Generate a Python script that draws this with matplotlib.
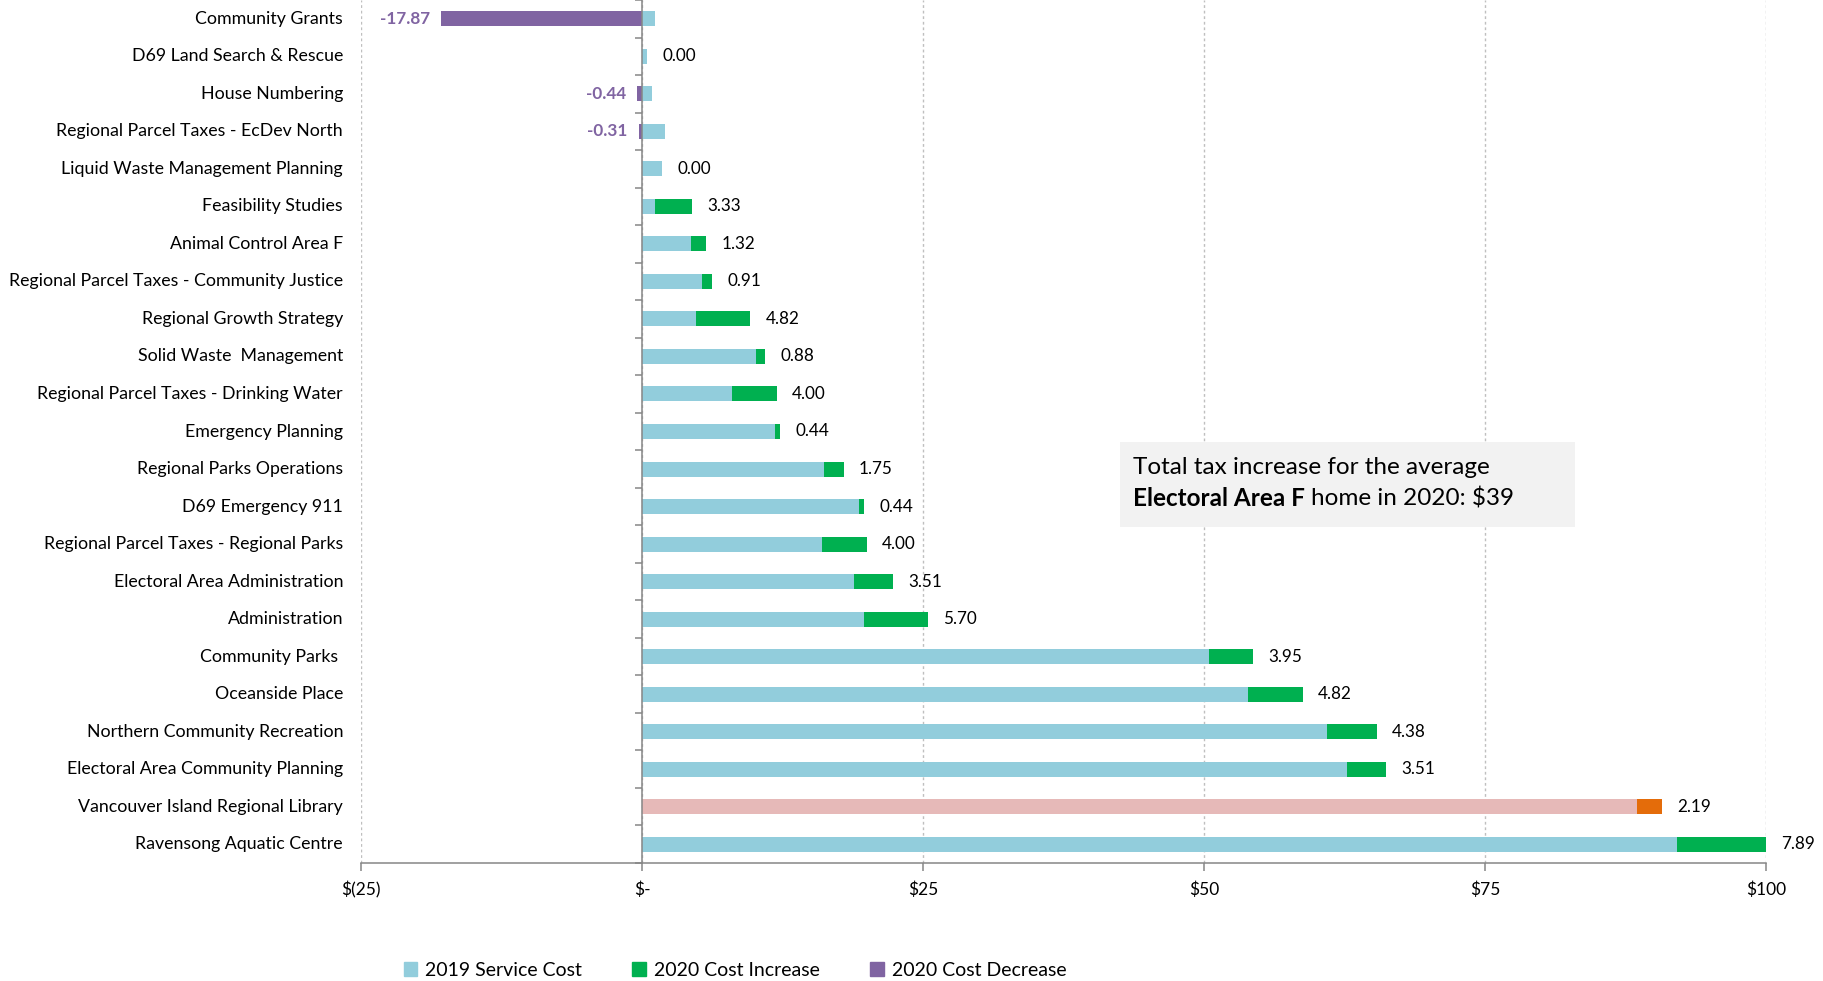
import matplotlib.pyplot as plt
from matplotlib.patches import Patch, Rectangle
from matplotlib.text import Annotation
import numpy as np

plt.rcParams['font.family'] = ['Lato', 'DejaVu Sans']

CATEGORIES = [
    "Community Grants",
    "D69 Land Search & Rescue",
    "House Numbering",
    "Regional Parcel Taxes - EcDev North",
    "Liquid Waste Management Planning",
    "Feasibility Studies",
    "Animal Control Area F",
    "Regional Parcel Taxes - Community Justice",
    "Regional Growth Strategy",
    "Solid Waste  Management",
    "Regional Parcel Taxes - Drinking Water",
    "Emergency Planning",
    "Regional Parks Operations",
    "D69 Emergency 911",
    "Regional Parcel Taxes - Regional Parks",
    "Electoral Area Administration",
    "Administration",
    "Community Parks ",
    "Oceanside Place",
    "Northern Community Recreation",
    "Electoral Area Community Planning",
    "Vancouver Island Regional Library",
    "Ravensong Aquatic Centre",
]

COST_2019 = [1.13, 0.45, 0.89, 2.08, 1.78, 1.15, 4.40, 5.30, 4.83, 10.10,
             8.00, 11.85, 16.20, 19.30, 16.00, 18.85, 19.75, 50.45, 53.95,
             60.97, 62.70, 88.55, 92.11]

CHANGE_2020 = [-17.87, 0.00, -0.44, -0.31, 0.00, 3.33, 1.32, 0.91, 4.82, 0.88,
               4.00, 0.44, 1.75, 0.44, 4.00, 3.51, 5.70, 3.95, 4.82, 4.38,
               3.51, 2.19, 7.89]

HIGHLIGHT = "Vancouver Island Regional Library"

X_TICKS = [-25, 0, 25, 50, 75, 100]
X_LABELS = ["$(25)", "$-", "$25", "$50", "$75", "$100"]

BLUE = "#92CDDC"
GREEN = "#00B050"
PURPLE = "#8064A2"
PINK = "#E6B9B8"
ORANGE = "#E46C0A"
GREY = "#868686"

W, H = 1823, 981


def main():
    fig = plt.figure(figsize=(W / 100, H / 100), dpi=100)
    ax = fig.add_axes([361 / W, 1 - 863 / H, 1405 / W, 863 / H])

    n = len(CATEGORIES)
    y = np.arange(n)
    base = np.array(COST_2019)
    change = np.array(CHANGE_2020)
    inc = np.clip(change, 0, None)
    dec = np.clip(change, None, 0)

    base_colors = [PINK if c == HIGHLIGHT else BLUE for c in CATEGORIES]
    inc_colors = [ORANGE if c == HIGHLIGHT else GREEN for c in CATEGORIES]

    h = 0.4
    ax.barh(y, base, height=h, color=base_colors, zorder=3)
    ax.barh(y, inc, left=base, height=h, color=inc_colors, zorder=3)
    ax.barh(y, dec, height=h, color=PURPLE, zorder=3)

    # value labels
    for yi, b, c in zip(y, base, change):
        if c < 0:
            ax.annotate(f"{c:.2f}", xy=(c, yi), xytext=(-8, 0),
                        textcoords="offset points", ha="right", va="center",
                        fontsize=12.3, color=PURPLE, fontweight="bold")
        else:
            ax.annotate(f"{c:.2f}", xy=(b + c, yi), xytext=(11, 0),
                        textcoords="offset points", ha="left", va="center",
                        fontsize=12.3, color="black")

    # category labels at far left
    for yi, cat in zip(y, CATEGORIES):
        ax.text(-0.0128, yi, cat, transform=ax.get_yaxis_transform(),
                ha="right", va="center", fontsize=12.8, color="black")

    ax.set_xlim(-25, 100)
    ax.set_ylim(n - 0.5, -0.5)

    ax.set_xticks(X_TICKS, labels=X_LABELS)
    ax.tick_params(axis="x", length=6, width=1.1, color=GREY, pad=7,
                   labelsize=12.5)
    ax.grid(axis="x", linestyle=(0, (2, 2)), color="#BFBFBF", linewidth=1.0,
            zorder=0)

    ax.spines["left"].set_position(("data", 0))
    ax.spines["left"].set_color(GREY)
    ax.spines["left"].set_linewidth(1.1)
    ax.spines["left"].set_zorder(4)
    ax.spines["bottom"].set_color(GREY)
    ax.spines["bottom"].set_linewidth(1.1)
    ax.spines["top"].set_visible(False)
    ax.spines["right"].set_visible(False)

    ax.set_yticks([])
    ax.set_yticks(np.arange(-0.5, n, 1.0), minor=True)
    ax.tick_params(axis="y", which="minor", length=5, width=1.1, color=GREY,
                   labelleft=False)

    # info box
    fig.add_artist(Rectangle((1120 / W, 1 - 527 / H), 455 / W, 85 / H,
                             transform=fig.transFigure, facecolor="#F2F2F2",
                             edgecolor="none", zorder=5))
    fig.text(1133 / W, 1 - 467 / H, "Total tax increase for the average",
             ha="left", va="center", fontsize=17.5, zorder=6)
    bold = fig.text(1133 / W, 1 - 498 / H, "Electoral Area F",
                    ha="left", va="center", fontsize=17.5, fontweight="bold",
                    zorder=6)
    fig.add_artist(Annotation("home in 2020: $39", xy=(1, 0.5), xycoords=bold,
                              xytext=(4.5, 0), textcoords="offset points",
                              va="center", ha="left", fontsize=17.5,
                              zorder=7))

    handles = [Patch(color=BLUE), Patch(color=GREEN), Patch(color=PURPLE)]
    labels = ["2019 Service Cost", "2020 Cost Increase", "2020 Cost Decrease"]
    fig.legend(handles, labels, loc="center",
               bbox_to_anchor=(735 / W, 1 - 970 / H), ncol=3, frameon=False,
               handlelength=0.7, handleheight=0.7, handletextpad=0.4,
               columnspacing=2.6, fontsize=14)

    fig.savefig("out.png", dpi=100)
    plt.close(fig)


if __name__ == "__main__":
    main()
